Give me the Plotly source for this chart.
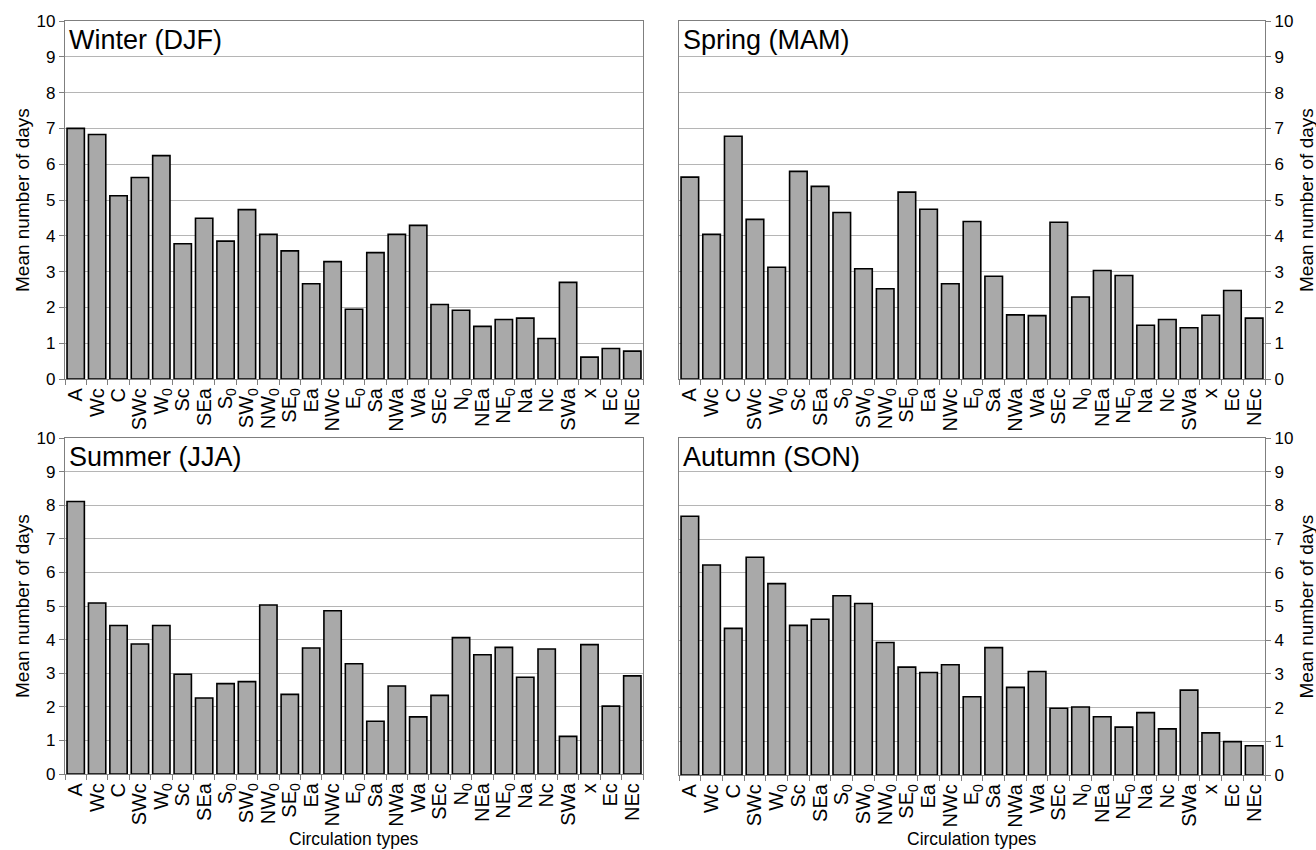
import plotly.graph_objects as go

types = ["A", "Wc", "C", "SWc", "W<sub>0</sub>", "Sc", "SEa", "S<sub>0</sub>", "SW<sub>0</sub>",
         "NW<sub>0</sub>", "SE<sub>0</sub>", "Ea", "NWc", "E<sub>0</sub>", "Sa", "NWa", "Wa", "SEc",
         "N<sub>0</sub>", "NEa", "NE<sub>0</sub>", "Na", "Nc", "SWa", "x", "Ec", "NEc"]

winter = [7.00, 6.83, 5.12, 5.63, 6.24, 3.78, 4.49, 3.85, 4.73, 4.04, 3.58, 2.66, 3.28, 1.95,
          3.53, 4.04, 4.29, 2.08, 1.92, 1.47, 1.66, 1.70, 1.13, 2.70, 0.61, 0.85, 0.78]
spring = [5.64, 4.04, 6.78, 4.46, 3.12, 5.80, 5.38, 4.65, 3.08, 2.52, 5.22, 4.74, 2.66, 4.40,
          2.87, 1.79, 1.77, 4.38, 2.29, 3.03, 2.89, 1.50, 1.66, 1.43, 1.78, 2.47, 1.70]
summer = [8.11, 5.09, 4.42, 3.87, 4.42, 2.97, 2.26, 2.69, 2.75, 5.03, 2.37, 3.75, 4.86, 3.28,
          1.57, 2.62, 1.70, 2.34, 4.06, 3.55, 3.77, 2.88, 3.72, 1.12, 3.85, 2.02, 2.92]
autumn = [7.68, 6.23, 4.35, 6.46, 5.68, 4.44, 4.62, 5.32, 5.09, 3.93, 3.20, 3.04, 3.27, 2.32,
          3.78, 2.60, 3.07, 1.98, 2.02, 1.73, 1.42, 1.85, 1.37, 2.52, 1.25, 0.99, 0.87]

panels = [("Winter (DJF)", winter), ("Spring (MAM)", spring),
          ("Summer (JJA)", summer), ("Autumn (SON)", autumn)]

W, H = 1316, 850
FONT = "Liberation Sans, Arial, sans-serif"
xpix = [(65, 643), (679, 1265), (65, 643), (679, 1265)]
ypix = [(21, 379), (21, 379), (438, 774), (438, 775)]

fig = go.Figure()
layout = dict(
    width=W, height=H, margin=dict(l=0, r=0, t=0, b=0),
    paper_bgcolor="white", plot_bgcolor="white", showlegend=False,
    bargap=0.19, font=dict(family=FONT, size=16, color="black"),
)
annotations = []
for i, (title, vals) in enumerate(panels):
    n = "" if i == 0 else str(i + 1)
    fig.add_trace(go.Bar(
        x=types, y=vals, xaxis="x" + n, yaxis="y" + n,
        marker=dict(color="#a9a9a9", line=dict(color="black", width=1.6)),
    ))
    right = i in (1, 3)
    bottom = i in (2, 3)
    x0, x1 = xpix[i]
    y0, y1 = ypix[i]
    layout["xaxis" + n] = dict(
        domain=[x0 / W, x1 / W], anchor="y" + n, type="category", automargin=False,
        tickmode="array", tickvals=types, ticktext=types,
        showline=True, linecolor="#7f7f7f", linewidth=1.3, mirror=True,
        ticks="outside", tickson="boundaries", ticklen=5, tickcolor="#7f7f7f",
        tickangle=-90, tickfont=dict(size=20, family=FONT, color="black"),
        showgrid=False,
    )
    layout["yaxis" + n] = dict(
        domain=[1 - y1 / H, 1 - y0 / H], anchor="x" + n, range=[0, 10], dtick=1,
        side="right" if right else "left", automargin=False,
        showline=True, linecolor="#7f7f7f", linewidth=1.3, mirror=True,
        ticks="outside", ticklen=5, tickcolor="#7f7f7f",
        showgrid=True, gridcolor="#b5b5b5", gridwidth=1,
        tickfont=dict(size=17, family=FONT, color="black"),
        zeroline=False,
    )
    annotations.append(dict(
        text=title, xref="x" + n + " domain", yref="y" + n + " domain",
        x=0.004, y=0.995, xanchor="left", yanchor="top", showarrow=False,
        font=dict(size=27, family=FONT, color="black"),
    ))
    annotations.append(dict(
        text="Mean number of days", xref="paper", yref="paper",
        x=(1306 if right else 22) / W, y=1 - (y0 + y1) / 2 / H,
        xanchor="center", yanchor="middle", textangle=-90, showarrow=False,
        font=dict(size=19, family=FONT, color="black"),
    ))
    if bottom:
        annotations.append(dict(
            text="Circulation types", xref="paper", yref="paper",
            x=(x0 + x1) / 2 / W, y=1 - 839 / H,
            xanchor="center", yanchor="middle", showarrow=False,
            font=dict(size=17.5, family=FONT, color="black"),
        ))
layout["annotations"] = annotations
fig.update_layout(**layout)
fig.write_html("out.html")
